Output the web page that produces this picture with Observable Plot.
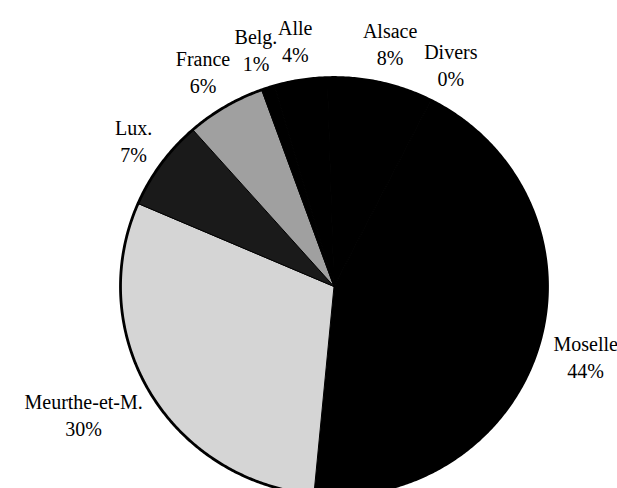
<!DOCTYPE html>
<html>
<head>
<meta charset="utf-8">
<script src="https://cdn.jsdelivr.net/npm/d3@7"></script>
<script src="https://cdn.jsdelivr.net/npm/@observablehq/plot@0.6"></script>
<style>
  html, body { margin: 0; padding: 0; background: #fff; overflow: hidden; }
</style>
</head>
<body>
<div id="chart"></div>
<script>
// ---- data ----
const categories = ["Moselle", "Meurthe-et-M.", "Lux.", "France", "Belg.", "Alle", "Alsace", "Divers"];
const shares     = [44, 30, 7, 6, 1, 4, 8, 0];
const pctLabels  = ["44%", "30%", "7%", "6%", "1%", "4%", "8%", "0%"];

// ---- styles ----
const sliceFills = ["#000000", "#d5d5d5", "#1a1a1a", "#a0a0a0", "#000000", "#000000", "#000000", "#000000"];
const START_ANGLE = 27;         // degrees clockwise from 12 o'clock
const FONT_SIZE = 20;
const X_RANGE = [120, 547];
const Y_RANGE = [495, 77];
const kx = (X_RANGE[1] - X_RANGE[0]) / 2;
const ky = (Y_RANGE[0] - Y_RANGE[1]) / 2;

// ---- pie geometry computed from the values ----
const total = d3.sum(shares);
const rad = (d) => d * Math.PI / 180;
let acc = 0;
const slices = categories.map((name, i) => {
  const a0 = START_ANGLE + acc / total * 360;
  acc += shares[i];
  const a1 = START_ANGLE + acc / total * 360;
  return { name, a0, a1, value: shares[i], label: `${name}\n${pctLabels[i]}` };
});

const wedgePts = [];
for (const s of slices) {
  if (s.value <= 0) continue;
  wedgePts.push({ name: s.name, x: 0, y: 0 });
  const n = Math.max(2, Math.ceil((s.a1 - s.a0) / 0.5));
  for (let k = 0; k <= n; k++) {
    const a = rad(s.a0 + (s.a1 - s.a0) * k / n);
    wedgePts.push({ name: s.name, x: Math.sin(a), y: Math.cos(a) });
  }
  wedgePts.push({ name: s.name, x: 0, y: 0 });
}

const rimPts = d3.range(0, 721).map((k) => {
  const a = rad(k / 2);
  return { x: Math.sin(a), y: Math.cos(a) };
});

// label placement: just outside the rim at each slice's mid angle
const GAP = 15, HALF_H = 26;
const labels = slices.map((s) => {
  const m = rad((s.a0 + s.a1) / 2);
  const longest = d3.max(s.label.split("\n"), (t) => t.length);
  const hw = 0.24 * FONT_SIZE * longest;
  const px = (kx + GAP + hw) * Math.sin(m);
  const py = (ky + GAP + HALF_H) * Math.cos(m);
  return { label: s.label, x: px / kx, y: py / ky };
});

const chart = Plot.plot({
  width: 617,
  height: 488,
  margin: 0,
  x: { domain: [-1, 1], range: X_RANGE, axis: null },
  y: { domain: [-1, 1], range: Y_RANGE, axis: null },
  color: { domain: categories, range: sliceFills },
  style: { background: "white", overflow: "hidden" },
  marks: [
    Plot.line(wedgePts, { x: "x", y: "y", z: "name", fill: "name", stroke: "black", strokeWidth: 1, curve: "linear" }),
    Plot.line(rimPts, { x: "x", y: "y", stroke: "black", strokeWidth: 2.8, fill: "none" }),
    Plot.text(labels, {
      x: "x", y: "y", text: "label",
      fontSize: FONT_SIZE, fontFamily: "Liberation Serif",
      lineHeight: 1.35, fill: "black", textAnchor: "middle"
    })
  ]
});
document.getElementById("chart").append(chart);
</script>
</body>
</html>
